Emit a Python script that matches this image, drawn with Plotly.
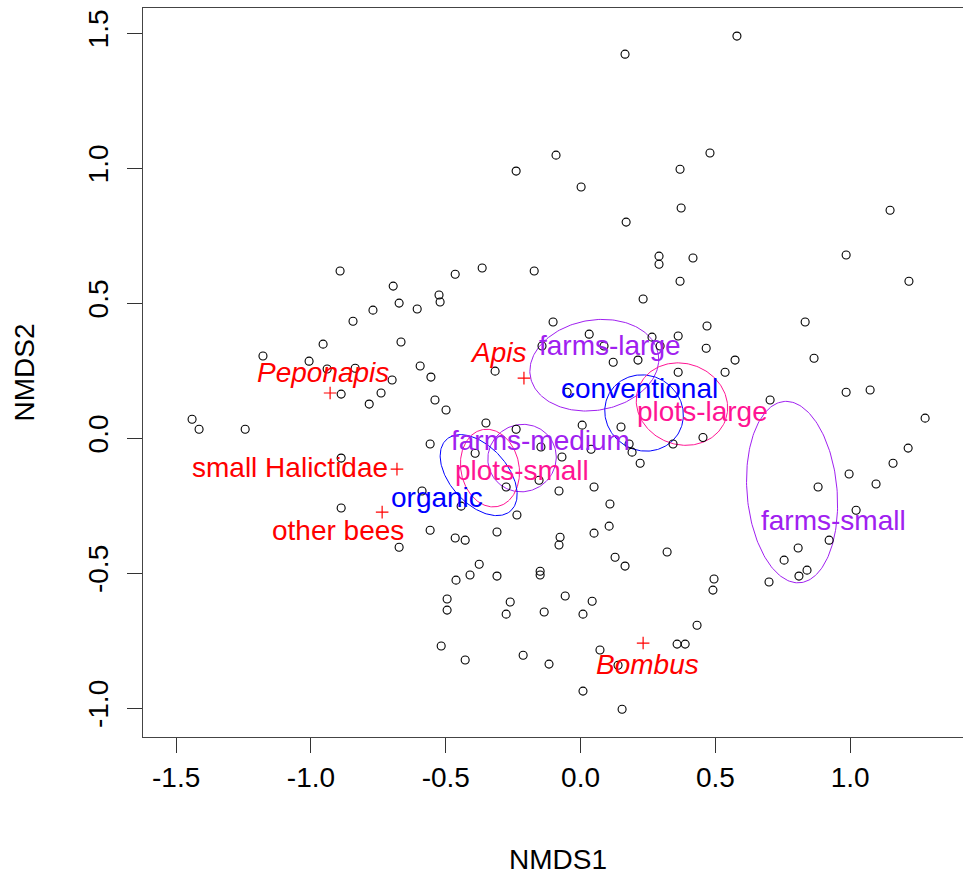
import numpy as np
import plotly.graph_objects as go

# ---------------- data ----------------
site_x = [0.580, 0.165, -0.091, -0.239, 0.002, 0.480, 0.369, 0.373, 0.169,
          1.148, 0.985, 1.218, 0.833, 0.866, 0.985, 1.074, 1.278, 1.215, 1.159,
          1.096, 0.996, 0.881, 1.022, 0.807, 0.755, 0.922, 0.840, 0.810, 0.699,
          0.703, 0.291, 0.291, 0.417, 0.369, 0.232, 0.469, 0.265, 0.362, 0.295,
          0.466, 0.573, 0.362, 0.536, 0.343, 0.454, 0.321, 0.495, 0.491,
          -0.465, -0.365, -0.172, -0.102, 0.032, -0.143, 0.087, 0.121, 0.213,
          -0.050, -0.317, -0.499, -0.892, -0.695, -0.673, -0.770, -0.606, -0.525,
          -0.521, -0.844, -0.955, -0.666, -1.178, -1.007, -0.940, -0.836, -0.595,
          -0.555, -0.699, -0.888, -0.740, -0.540, -1.441, -1.415, -1.244, -0.784,
          -0.558, -0.888, -0.588, -0.888, -0.558, -0.673, -0.351, -0.239, 0.006,
          0.150, -0.391, -0.147, -0.069, 0.039, 0.180, 0.191, 0.221, -0.154,
          -0.276, -0.080, 0.050, -0.443, -0.236, 0.109, 0.106, -0.310, -0.465,
          -0.428, -0.076, -0.080, 0.050, 0.128, 0.165, -0.376, -0.410, -0.310,
          -0.150, -0.150, -0.462, -0.495, -0.495, -0.261, -0.276, -0.057, 0.043,
          -0.135, 0.009, 0.432, -0.517, -0.428, -0.213, -0.117, 0.072, 0.358,
          0.388, 0.139, 0.009, 0.154]
site_y = [1.489, 1.422, 1.048, 0.989, 0.930, 1.056, 0.996, 0.852, 0.800,
          0.844, 0.678, 0.581, 0.430, 0.296, 0.170, 0.178, 0.074, -0.037, -0.093,
          -0.170, -0.133, -0.181, -0.267, -0.407, -0.452, -0.378, -0.489, -0.511, -0.533,
          0.141, 0.674, 0.644, 0.667, 0.581, 0.515, 0.415, 0.374, 0.378, 0.341,
          0.333, 0.289, 0.244, 0.244, -0.022, 0.002, -0.422, -0.522, -0.563,
          0.607, 0.630, 0.619, 0.430, 0.385, 0.341, 0.341, 0.281, 0.289,
          0.170, 0.248, 0.104, 0.619, 0.563, 0.500, 0.474, 0.478, 0.530,
          0.504, 0.433, 0.348, 0.356, 0.304, 0.285, 0.256, 0.259, 0.267,
          0.226, 0.215, 0.163, 0.167, 0.141, 0.070, 0.033, 0.033, 0.126,
          -0.022, -0.074, -0.196, -0.259, -0.341, -0.404, 0.056, 0.033, 0.048,
          0.041, -0.056, -0.033, -0.070, -0.041, -0.022, -0.052, -0.093, -0.156,
          -0.181, -0.196, -0.181, -0.252, -0.285, -0.244, -0.326, -0.348, -0.370,
          -0.378, -0.367, -0.396, -0.352, -0.441, -0.474, -0.467, -0.507, -0.511,
          -0.493, -0.507, -0.526, -0.596, -0.637, -0.607, -0.652, -0.585, -0.604,
          -0.644, -0.652, -0.693, -0.770, -0.822, -0.804, -0.837, -0.785, -0.763,
          -0.763, -0.841, -0.937, -1.004]

species_names = ["Peponapis", "Apis", "small Halictidae", "other bees", "Bombus"]
species_italic = [True, True, False, False, True]
species_x = [-0.929, -0.210, -0.681, -0.736, 0.232]
species_y = [0.167, 0.222, -0.115, -0.274, -0.759]
species_label_x = [-0.955, -0.306, -1.077, -0.900, 0.250]
species_label_y = [0.244, 0.318, -0.107, -0.344, -0.837]

group_names = ["farms-large", "conventional", "plots-large", "farms-medium",
               "plots-small", "organic", "farms-small"]
group_cx = [0.051, 0.2355, 0.376, -0.217, -0.336, -0.378, 0.7845]
group_cy = [0.270, 0.093, 0.126, -0.074, -0.111, -0.137, -0.200]
group_a = [0.241, 0.148, 0.172, 0.128, 0.145, 0.178, 0.337]
group_b = [0.167, 0.139, 0.150, 0.124, 0.108, 0.106, 0.167]
group_angle = [10, -30, -20, 30, 101, -48, 95]
group_label_x = [0.109, 0.217, 0.451, -0.150, -0.217, -0.532, 0.937]
group_label_y = [0.344, 0.185, 0.100, -0.007, -0.119, -0.219, -0.304]

x_ticks = [-1.5, -1.0, -0.5, 0.0, 0.5, 1.0]
y_ticks = [-1.0, -0.5, 0.0, 0.5, 1.0, 1.5]

# ---------------- styles ----------------
FONT = "Liberation Sans, Arial, sans-serif"
FS = 28
group_colors = {"farms": "#A020F0", "plots": "#FF1493",
                "conventional": "#0000FF", "organic": "#0000FF"}


def gcolor(name):
    return group_colors[name.split("-")[0]]


fig = go.Figure()

# ellipses
t = np.linspace(0, 2 * np.pi, 200)
for name, cx, cy, a, b, ang in zip(group_names, group_cx, group_cy,
                                   group_a, group_b, group_angle):
    th = np.deg2rad(ang)
    ex = cx + a * np.cos(t) * np.cos(th) - b * np.sin(t) * np.sin(th)
    ey = cy + a * np.cos(t) * np.sin(th) + b * np.sin(t) * np.cos(th)
    fig.add_trace(go.Scatter(x=ex, y=ey, mode="lines",
                             line=dict(color=gcolor(name), width=1),
                             hoverinfo="skip", showlegend=False))

# sites
fig.add_trace(go.Scatter(x=site_x, y=site_y, mode="markers",
                         marker=dict(symbol="circle-open", size=8,
                                     color="black", line=dict(width=1.1)),
                         showlegend=False))

# species crosses
fig.add_trace(go.Scatter(x=species_x, y=species_y, mode="markers",
                         marker=dict(symbol="cross-thin", size=9,
                                     line=dict(color="red", width=1.2),
                                     color="red"),
                         showlegend=False))

annotations = []
for name, it, lx, ly in zip(species_names, species_italic,
                            species_label_x, species_label_y):
    annotations.append(dict(x=lx, y=ly, xref="x", yref="y",
                            text=f"<i>{name}</i>" if it else name,
                            showarrow=False, xanchor="center", yanchor="middle",
                            font=dict(family=FONT, size=FS, color="red")))
for name, lx, ly in zip(group_names, group_label_x, group_label_y):
    annotations.append(dict(x=lx, y=ly, xref="x", yref="y", text=name,
                            showarrow=False, xanchor="center", yanchor="middle",
                            font=dict(family=FONT, size=FS, color=gcolor(name))))

# axis titles
annotations.append(dict(x=0.506, y=-0.1687, xref="paper", yref="paper",
                        text="NMDS1", showarrow=False, xanchor="center",
                        yanchor="middle", font=dict(family=FONT, size=FS, color="black")))
annotations.append(dict(x=-0.144, y=0.5, xref="paper", yref="paper",
                        text="NMDS2", showarrow=False, textangle=-90,
                        xanchor="center", yanchor="middle",
                        font=dict(family=FONT, size=FS, color="black")))

fig.update_layout(
    width=963, height=877,
    margin=dict(l=143, r=0, t=8, b=140),
    paper_bgcolor="white", plot_bgcolor="white",
    annotations=annotations,
    showlegend=False,
    xaxis=dict(range=[-1.623, 1.4185], tickvals=x_ticks,
               ticktext=[f"{v:.1f}" for v in x_ticks],
               ticks="outside", ticklen=15, tickwidth=1, tickcolor="#333",
               showline=True, linecolor="#444", linewidth=1.2, mirror=True,
               showgrid=False, zeroline=False,
               tickfont=dict(family=FONT, size=FS, color="black"),
               ticklabelstandoff=0),
    yaxis=dict(range=[-1.107, 1.593], tickvals=y_ticks,
               ticktext=[f"{v:.1f}" for v in y_ticks],
               ticks="outside", ticklen=15, tickwidth=1, tickcolor="#333",
               showline=True, linecolor="#444", linewidth=1.2, mirror=False,
               showgrid=False, zeroline=False, tickangle=-90,
               tickfont=dict(family=FONT, size=FS, color="black"),
               ticklabelstandoff=8),
)

fig.write_html("out.html")
